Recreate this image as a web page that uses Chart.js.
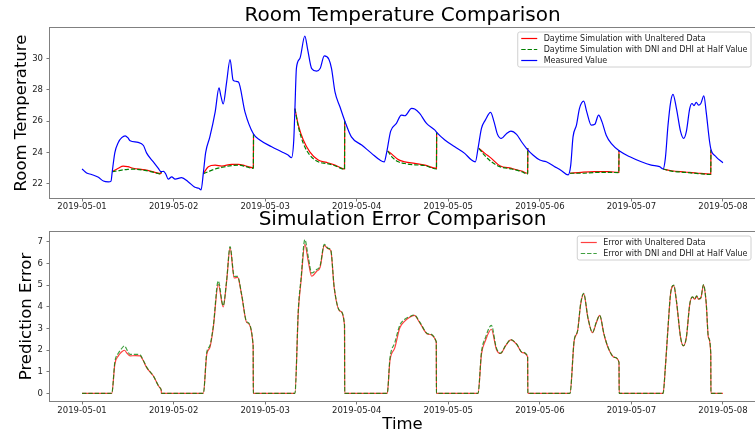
<!DOCTYPE html>
<html lang="en">
<head>
    <meta charset="UTF-8">
    <title>Room Temperature Comparison</title>
    <script src="https://cdn.jsdelivr.net/npm/chart.js"></script>
    <style>
        body {
            margin: 0;
            background: white;
        }
        canvas {
            position: absolute;
            left: 0;
        }
        #tempChart { top: 0; }
        #errChart { top: 205px; }
    </style>
</head>
<body>
    <canvas id="tempChart" width="755" height="215"></canvas>
    <canvas id="errChart" width="755" height="232"></canvas>

    <script>
        // x values are hours after 2019-05-01 00:00
        const dayTicks = [0, 24, 48, 72, 96, 120, 144, 168];
        const dayLabels = ['2019-05-01', '2019-05-02', '2019-05-03', '2019-05-04',
                           '2019-05-05', '2019-05-06', '2019-05-07', '2019-05-08'];
        const tempTicks = [22, 24, 26, 28, 30];
        const errTicks = [0, 1, 2, 3, 4, 5, 6, 7];

        const measHours = [0, 1.2, 2.5, 4.3, 5.6, 6.9, 7.6, 7.9, 8.6, 9.5, 10.4, 11.3, 12.0, 12.6, 14.7, 16.1, 16.9, 18.7, 20.0, 20.7,
            21.4, 22.0, 22.6, 23.5, 24.4, 26.1, 27.8, 29.6, 30.6, 31.2, 31.8, 32.4, 33.5, 34.9, 35.9, 36.4, 37.0, 37.9, 38.8, 39.6,
            40.3, 41.0, 42.7, 44.9, 46.6, 49.7, 52.3, 54.0, 54.9, 55.5, 55.8, 56.2, 57.1, 58.4, 59.1, 60.2, 61.5, 62.4, 63.5, 64.7,
            65.4, 66.3, 67.6, 68.9, 70.6, 73.3, 75.9, 78.1, 79.2, 79.8, 80.9, 82.4, 83.7, 84.6, 86.4, 87.2, 88.5, 90.3, 92.5, 92.9,
            95.1, 97.7, 100.3, 102.1, 103.1, 103.8, 104.7, 105.7, 107.1, 108.0, 108.9, 109.9, 111.3, 112.4, 113.9, 115.2, 116.5, 118.2, 120.0, 121.7,
            123.9, 125.7, 127.4, 128.1, 128.7, 129.6, 130.4, 131.5, 132.3, 133.5, 134.4, 135.4, 136.3, 137.4, 138.7, 141.0, 143.6, 146.6, 149.2, 151.4,
            152.3, 152.9, 153.6, 154.3, 154.9, 155.8, 156.9, 157.7, 158.4, 159.3, 159.9, 160.4, 161.0, 161.6, 162.2, 163.0, 163.6, 164.5, 164.9, 166.2,
            167.7, 168.0];
        const measTemp = [22.95, 22.7, 22.6, 22.42, 22.18, 22.13, 22.18, 22.75, 24.0, 24.65, 24.95, 25.07, 24.95, 24.75, 24.65, 24.45, 23.98, 23.4, 22.99, 22.78,
            22.8, 22.6, 22.3, 22.45, 22.3, 22.4, 22.14, 21.78, 21.72, 21.62, 22.7, 24.0, 25.0, 26.6, 28.13, 27.6, 27.1, 28.5, 29.94, 28.62,
            28.55, 28.5, 26.6, 25.2, 24.8, 24.37, 24.05, 23.84, 23.67, 24.8, 26.8, 29.4, 30.0, 31.44, 30.64, 29.36, 29.2, 29.36, 30.17, 29.96,
            29.36, 27.87, 26.92, 26.0, 25.0, 24.48, 23.95, 23.52, 23.41, 23.95, 25.37, 25.86, 26.39, 26.35, 26.82, 26.78, 26.5, 25.86, 25.43, 25.3,
            24.8, 24.37, 23.95, 23.52, 23.41, 24.27, 25.54, 26.07, 26.56, 25.96, 25.16, 24.9, 25.22, 25.37, 25.16, 24.69, 24.27, 23.84, 23.52, 23.41,
            23.1, 22.84, 22.57, 23.2, 25.0, 25.75, 26.82, 27.28, 26.6, 25.75, 25.8, 26.39, 25.96, 25.11, 24.59, 24.08, 23.73, 23.41, 23.2, 23.1,
            22.95, 23.63, 25.75, 27.24, 27.71, 26.82, 25.33, 24.9, 25.33, 26.82, 27.13, 27.0, 27.2, 27.03, 27.13, 27.62, 26.6, 24.69, 24.16, 23.73,
            23.41, 23.35];

        // daytime simulations, null breaks the line between days
        const simHours = [7.9, 9.5, 10.8, 12.0, 13.4, 16.5, 19.1, 20.7, 20.75, 20.8,
            31.8, 33.1, 34.9, 36.6, 39.2, 41.0, 42.7, 44.9, 44.95, 45.0,
            55.8, 56.7, 58.0, 59.7, 61.9, 64.1, 66.3, 68.8, 68.85, 68.9,
            80.1, 81.2, 82.9, 84.6, 87.2, 89.9, 92.9, 92.95, 93.0,
            104.0, 105.6, 107.3, 109.5, 112.6, 115.2, 116.8, 116.85, 116.9,
            127.9, 130.9, 134.4, 137.9, 140.7, 140.75, 140.8,
            152.3, 154.5, 158.0, 161.5, 164.8, 164.85];
        const simRed = [22.78, 23.0, 23.14, 23.1, 23.0, 22.89, 22.74, 22.65, 22.78, null,
            22.65, 23.1, 23.2, 23.14, 23.25, 23.25, 23.16, 23.03, 25.2, null,
            26.8, 25.75, 24.8, 24.05, 23.52, 23.37, 23.2, 22.95, 26.0, null,
            24.1, 23.9, 23.55, 23.41, 23.31, 23.2, 22.99, 25.3, null,
            24.27, 23.95, 23.63, 23.16, 22.99, 22.82, 22.68, 24.27, null,
            22.68, 22.74, 22.78, 22.78, 22.74, 24.15, null,
            22.95, 22.84, 22.76, 22.68, 22.63, 24.18];
        const simGreen = [22.78, 22.84, 22.9, 22.93, 22.94, 22.86, 22.72, 22.63, 22.78, null,
            22.65, 22.78, 22.95, 23.05, 23.17, 23.2, 23.12, 22.99, 25.2, null,
            26.8, 25.65, 24.59, 23.84, 23.41, 23.3, 23.16, 22.93, 26.0, null,
            24.1, 23.73, 23.41, 23.3, 23.22, 23.17, 22.95, 25.3, null,
            24.27, 23.8, 23.41, 23.1, 22.95, 22.78, 22.63, 24.27, null,
            22.68, 22.68, 22.73, 22.74, 22.72, 24.15, null,
            22.95, 22.82, 22.74, 22.66, 22.6, 24.18];

        const errHours = [0, 7.8, 8.6, 9.5, 10.3, 11.1, 11.8, 12.6, 14.0, 15.2, 16.0, 16.9, 18.7, 20.4, 20.75, 20.8,
            31.8, 32.7, 33.5, 34.4, 35.7, 37.0, 37.9, 38.8, 39.9, 40.8, 41.8, 43.2, 44.85, 44.9,
            55.8, 56.7, 57.4, 58.4, 59.3, 60.2, 61.5, 62.4, 63.5, 64.5, 65.2, 66.1, 67.6, 68.8, 68.85,
            80.0, 80.7, 82.0, 83.3, 84.6, 85.9, 87.1, 88.5, 90.7, 92.85, 92.9,
            103.8, 104.7, 105.7, 107.3, 108.6, 109.7, 111.0, 112.4, 113.9, 115.4, 116.8, 116.85,
            127.9, 129.0, 129.9, 130.7, 131.5, 132.6, 133.8, 134.8, 135.7, 136.8, 137.9, 139.6, 140.75, 140.8,
            152.3, 152.9, 153.6, 154.3, 155.1, 155.8, 156.9, 157.6, 158.4, 159.3, 160.0, 160.6, 161.1, 161.6, 162.2, 162.9, 163.6, 164.2, 164.8, 164.85,
            168.0];
        const errRed = [0, 0, 1.35, 1.73, 1.9, 1.99, 1.85, 1.73, 1.74, 1.73, 1.53, 1.2, 0.8, 0.26, 0.15, 0,
            0, 1.81, 2.11, 3.03, 5.03, 3.99, 5.17, 6.73, 5.33, 5.36, 4.57, 3.27, 2.2, 0,
            0, 3.8, 5.18, 6.88, 6.1, 5.41, 5.64, 5.82, 6.84, 6.68, 6.6, 4.87, 3.8, 3.15, 0,
            0, 1.5, 2.11, 3.03, 3.34, 3.52, 3.6, 3.27, 2.73, 2.38, 0,
            0, 1.81, 2.42, 2.96, 2.04, 1.84, 2.19, 2.47, 2.27, 1.88, 1.69, 0,
            0, 2.42, 2.88, 4.11, 4.6, 3.49, 2.8, 3.26, 3.6, 2.73, 2.11, 1.66, 1.43, 0,
            0, 1.2, 3.03, 4.64, 4.98, 4.26, 2.57, 2.19, 2.57, 4.11, 4.45, 4.35, 4.49, 4.35, 4.4, 5.0, 4.18, 2.57, 1.85, 0,
            0];
        const errGreen = [0, 0, 1.45, 1.85, 2.05, 2.19, 2.0, 1.8, 1.8, 1.78, 1.55, 1.22, 0.8, 0.26, 0.15, 0,
            0, 1.9, 2.2, 3.1, 5.19, 4.05, 5.22, 6.78, 5.4, 5.4, 4.6, 3.3, 2.22, 0,
            0, 3.9, 5.3, 7.1, 6.3, 5.56, 5.72, 5.9, 6.88, 6.7, 6.62, 4.9, 3.82, 3.16, 0,
            0, 1.6, 2.35, 3.15, 3.42, 3.55, 3.62, 3.3, 2.75, 2.38, 0,
            0, 1.9, 2.55, 3.14, 2.1, 1.86, 2.2, 2.48, 2.28, 1.9, 1.7, 0,
            0, 2.45, 2.9, 4.15, 4.62, 3.5, 2.82, 3.28, 3.6, 2.75, 2.12, 1.66, 1.43, 0,
            0, 1.2, 3.05, 4.66, 5.0, 4.28, 2.58, 2.2, 2.58, 4.12, 4.46, 4.36, 4.5, 4.36, 4.42, 5.02, 4.2, 2.58, 1.87, 0,
            0];

        Chart.defaults.font.family = '"DejaVu Sans", sans-serif';
        Chart.defaults.color = '#222';

        function pairs(xs, ys) {
            return xs.map((x, i) => ({ x: x, y: ys[i] }));
        }

        // axes frame plus a matplotlib style legend box in the top right corner
        const frameLegend = {
            id: 'frameLegend',
            afterDatasetsDraw(chart) {
                const ctx = chart.ctx;
                const a = chart.chartArea;
                ctx.save();
                ctx.strokeStyle = '#808080';
                ctx.lineWidth = 1;
                ctx.strokeRect(Math.round(a.left) - 0.5, Math.round(a.top) - 0.5,
                    Math.round(a.right - a.left) + 1, Math.round(a.bottom - a.top) + 1);

                const items = chart.data.datasets;
                ctx.font = '8px "DejaVu Sans"';
                const textW = Math.max(...items.map(d => ctx.measureText(d.label).width));
                const pad = 3.5, handle = 16, gap = 6.4, row = 11, vpad = 6.5;
                const w = pad + handle + gap + textW + pad;
                const h = vpad * 2 + row * (items.length - 1);
                const x0 = a.right - 4 - w;
                const y0 = a.top + 4;

                ctx.beginPath();
                ctx.roundRect(x0, y0, w, h, 2);
                ctx.fillStyle = 'rgba(255,255,255,0.8)';
                ctx.fill();
                ctx.strokeStyle = '#d0d0d0';
                ctx.stroke();

                items.forEach((d, i) => {
                    const y = y0 + vpad + i * row;
                    ctx.beginPath();
                    ctx.setLineDash(d.borderDash || []);
                    ctx.strokeStyle = d.borderColor;
                    ctx.lineWidth = d.borderWidth;
                    ctx.moveTo(x0 + pad, y);
                    ctx.lineTo(x0 + pad + handle, y);
                    ctx.stroke();
                    ctx.setLineDash([]);
                    ctx.fillStyle = '#222';
                    ctx.textBaseline = 'middle';
                    ctx.fillText(d.label, x0 + pad + handle + gap, y);
                });
                ctx.restore();
            }
        };

        function makeOptions(title, titlePad, yTitle, yMin, yMax, yTicks, yTitlePad, xTitle, xHeight, xPad) {
            return {
                responsive: false,
                animation: false,
                events: [],
                devicePixelRatio: 1,
                layout: { padding: 0 },
                elements: {
                    point: { radius: 0 },
                    line: { cubicInterpolationMode: 'monotone', borderWidth: 1.2, fill: false }
                },
                plugins: {
                    legend: { display: false },
                    tooltip: { enabled: false },
                    title: {
                        display: true,
                        text: title,
                        fullSize: false,
                        color: '#000',
                        font: { size: 20, weight: 'normal' },
                        padding: { top: titlePad, bottom: 0 }
                    }
                },
                scales: {
                    x: {
                        type: 'linear',
                        min: -8.4,
                        max: 176.4,
                        afterBuildTicks: s => { s.ticks = dayTicks.map(v => ({ value: v })); },
                        afterFit: s => { s.height = xHeight; },
                        ticks: {
                            font: { size: 8.5 },
                            padding: xPad,
                            maxRotation: 0,
                            autoSkip: false,
                            callback: (v, i) => dayLabels[i]
                        },
                        grid: { drawOnChartArea: false, drawTicks: true, tickLength: 3.5, color: '#555', lineWidth: 0.8 },
                        border: { display: false },
                        title: {
                            display: !!xTitle,
                            text: xTitle,
                            color: '#000',
                            font: { size: 16.5 },
                            padding: { top: 0, bottom: 2 }
                        }
                    },
                    y: {
                        min: yMin,
                        max: yMax,
                        afterBuildTicks: s => { s.ticks = yTicks.map(v => ({ value: v })); },
                        afterFit: s => { s.width = 50; },
                        ticks: { font: { size: 8.5 }, padding: 3.5 },
                        grid: { drawOnChartArea: false, drawTicks: true, tickLength: 3.5, color: '#555', lineWidth: 0.8 },
                        border: { display: false },
                        title: {
                            display: true,
                            text: yTitle,
                            color: '#000',
                            font: { size: 16.5 },
                            padding: { top: yTitlePad, bottom: 0 }
                        }
                    }
                }
            };
        }

        new Chart(document.getElementById('tempChart'), {
            type: 'line',
            data: {
                datasets: [{
                    label: 'Daytime Simulation with Unaltered Data',
                    data: pairs(simHours, simRed),
                    borderColor: '#ff0000',
                    borderWidth: 1.2,
                    order: 3
                }, {
                    label: 'Daytime Simulation with DNI and DHI at Half Value',
                    data: pairs(simHours, simGreen),
                    borderColor: '#008000',
                    borderWidth: 1.2,
                    borderDash: [4.4, 1.9],
                    order: 2
                }, {
                    label: 'Measured Value',
                    data: pairs(measHours, measTemp),
                    borderColor: '#0000ff',
                    borderWidth: 1.2,
                    order: 1
                }]
            },
            options: makeOptions('Room Temperature Comparison', 4, 'Room Temperature', 21.1, 31.95, tempTicks, 11.5, '', 17, 0),
            plugins: [frameLegend]
        });

        new Chart(document.getElementById('errChart'), {
            type: 'line',
            data: {
                datasets: [{
                    label: 'Error with Unaltered Data',
                    data: pairs(errHours, errRed),
                    borderColor: 'rgba(255,0,0,0.75)',
                    borderWidth: 1.2,
                    order: 2
                }, {
                    label: 'Error with DNI and DHI at Half Value',
                    data: pairs(errHours, errGreen),
                    borderColor: 'rgba(0,128,0,0.75)',
                    borderWidth: 1.2,
                    borderDash: [4.4, 1.9],
                    order: 1
                }]
            },
            options: makeOptions('Simulation Error Comparison', 3, 'Prediction Error', -0.355, 7.455, errTicks, 17, 'Time', 36, 1),
            plugins: [frameLegend]
        });
    </script>
</body>
</html>
